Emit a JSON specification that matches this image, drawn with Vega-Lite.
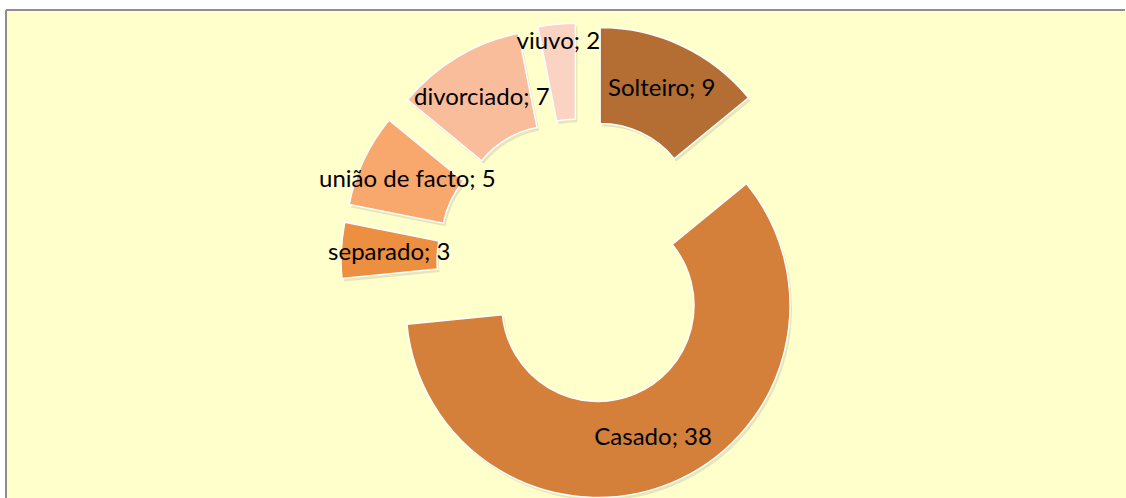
{
  "$schema": "https://vega.github.io/schema/vega-lite/v6.json",
  "width": 1126,
  "height": 498,
  "autosize": {"type": "fit", "contains": "padding"},
  "padding": {"left": 6, "top": 10, "right": 0, "bottom": 0},
  "background": "white",
  "config": {
    "view": {"fill": "#FFFFCC", "stroke": "#8E8E8E", "strokeWidth": 2, "strokeDash": [1119, 1609, 488, 0]}
  },
  "data": {
    "values": [
      {"cat": "Solteiro", "n": 9},
      {"cat": "Casado", "n": 38},
      {"cat": "separado", "n": 3},
      {"cat": "união de facto", "n": 5},
      {"cat": "divorciado", "n": 7},
      {"cat": "viuvo", "n": 2}
    ]
  },
  "transform": [
    {"stack": "n", "groupby": [], "offset": "normalize", "as": ["n0", "n1"]},
    {"calculate": "(datum.n0 + datum.n1) / 2", "as": "nm"},
    {"calculate": "2 * PI * datum.nm", "as": "mid"},
    {"calculate": "sin(datum.mid)", "as": "ux"},
    {"calculate": "cos(datum.mid)", "as": "uy"},
    {"calculate": "datum.cat + '; ' + datum.n", "as": "label"}
  ],
  "encoding": {
    "x": {"field": "ux", "type": "quantitative", "axis": null, "scale": {"domain": [-12.213, 11.617], "nice": false, "zero": false}},
    "y": {"field": "uy", "type": "quantitative", "axis": null, "scale": {"domain": [-5.021, 5.362], "nice": false, "zero": false}}
  },
  "layer": [
    {
      "mark": {"type": "arc", "outerRadius": 192, "innerRadius": 96, "fill": "#000000", "opacity": 0.1, "xOffset": 2, "yOffset": 3},
      "encoding": {
        "theta": {"field": "n0", "type": "quantitative", "stack": null, "scale": {"domain": [0, 1], "nice": false, "zero": true}},
        "theta2": {"field": "n1"}
      }
    },
    {
      "mark": {"type": "arc", "outerRadius": 192, "innerRadius": 96, "stroke": "white", "strokeWidth": 1.5},
      "encoding": {
        "theta": {"field": "n0", "type": "quantitative", "stack": null},
        "theta2": {"field": "n1"},
        "color": {
          "field": "cat",
          "type": "nominal",
          "legend": null,
          "scale": {
            "domain": ["Solteiro", "Casado", "separado", "união de facto", "divorciado", "viuvo"],
            "range": ["#B46D33", "#D4803A", "#EC8F41", "#F8A76D", "#F9BD9C", "#FAD3C3"]
          }
        }
      }
    },
    {
      "transform": [{"filter": "datum.cat !== 'viuvo'"}],
      "mark": {"type": "text", "font": "Lato", "fontSize": 24, "color": "black", "align": "center", "baseline": "middle", "radius": 144},
      "encoding": {
        "theta": {"field": "nm", "type": "quantitative", "stack": null},
        "text": {"field": "label"}
      }
    },
    {
      "transform": [{"filter": "datum.cat === 'viuvo'"}],
      "mark": {"type": "text", "font": "Lato", "fontSize": 24, "color": "black", "align": "center", "baseline": "middle", "radius": 174},
      "encoding": {
        "theta": {"field": "nm", "type": "quantitative", "stack": null},
        "text": {"field": "label"}
      }
    }
  ]
}
